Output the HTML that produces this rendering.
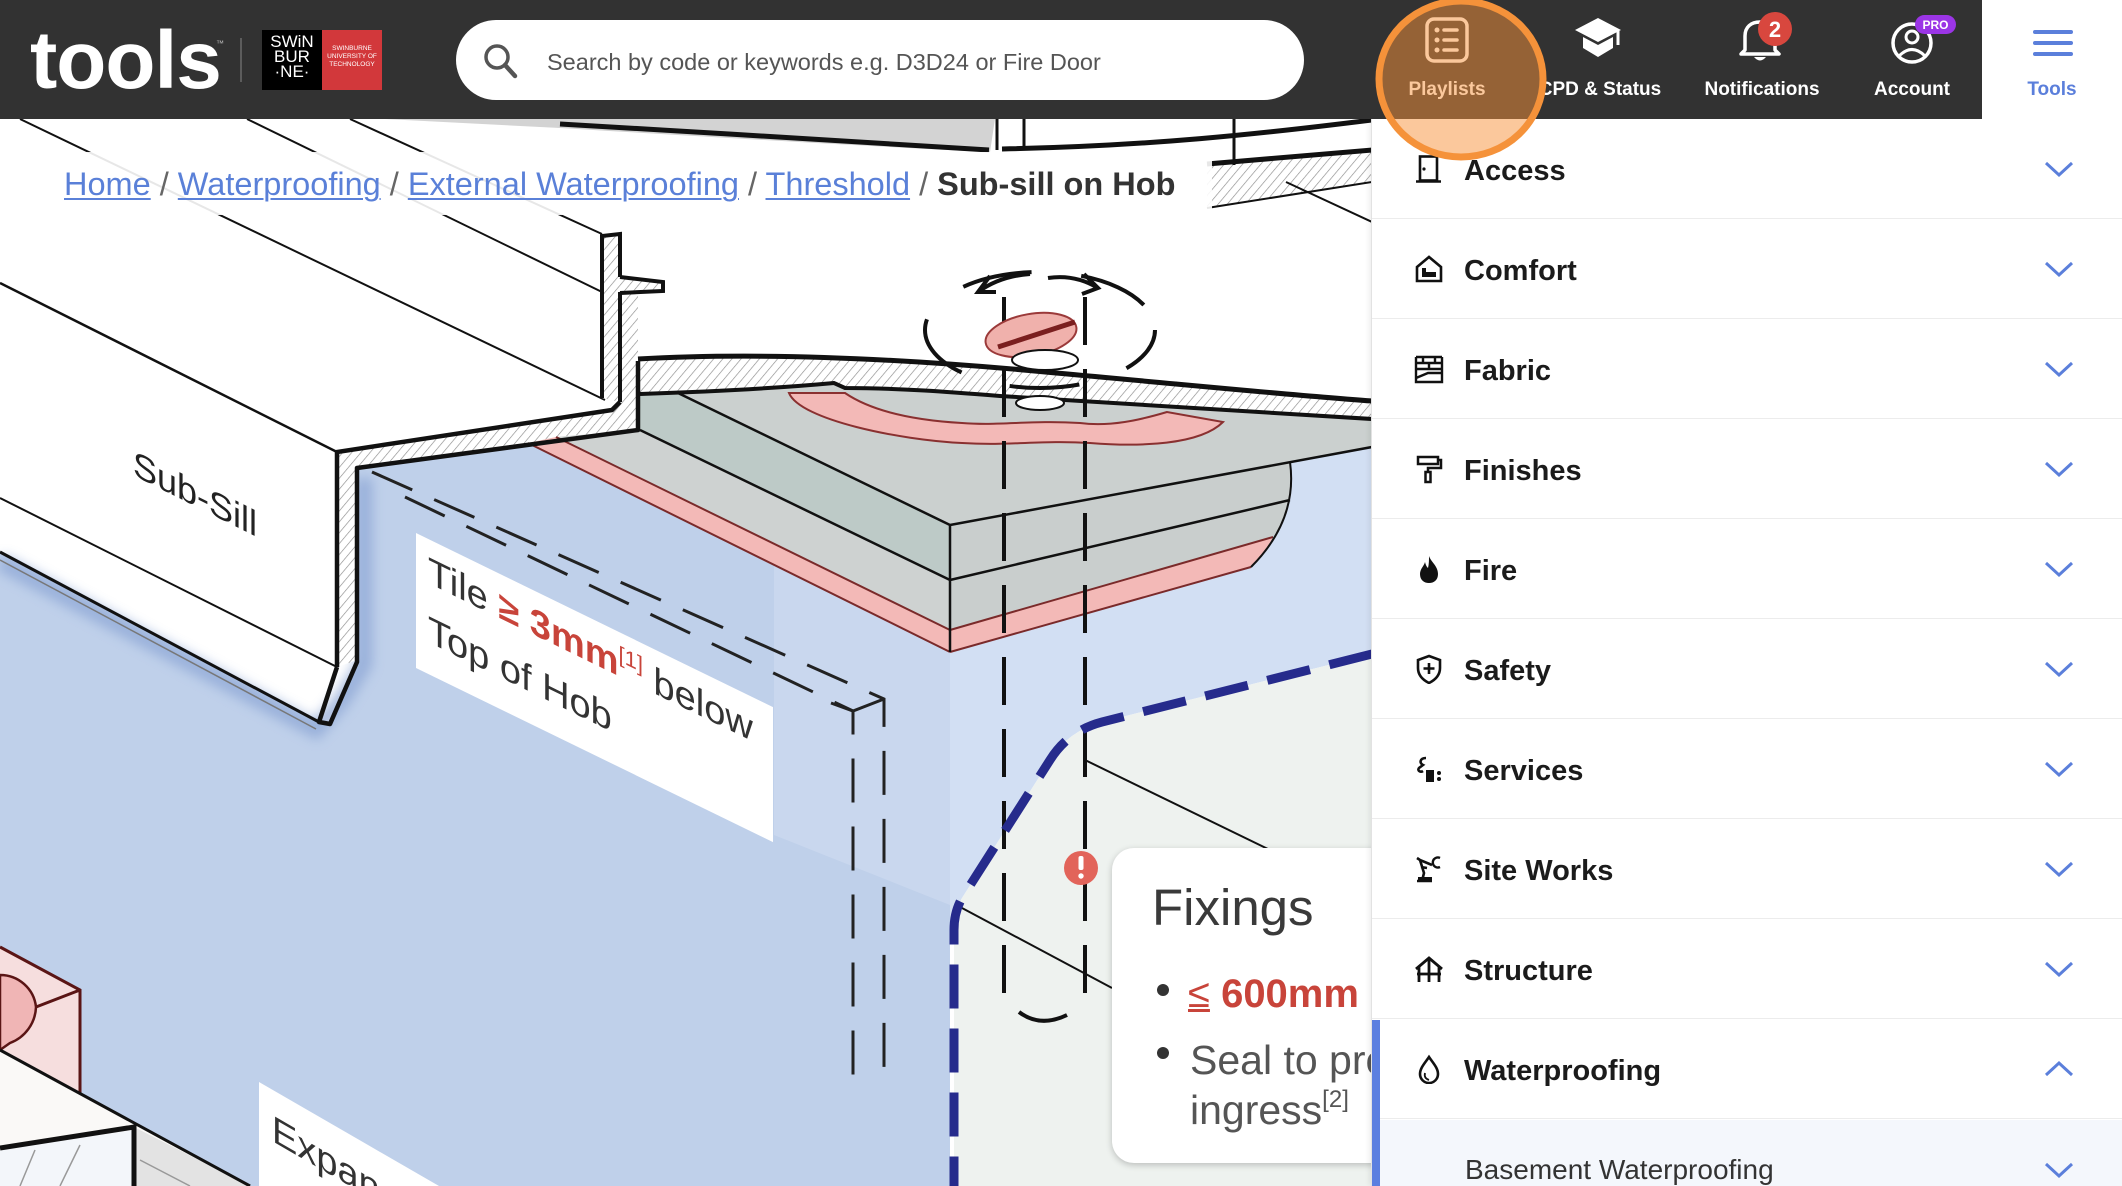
<!DOCTYPE html>
<html><head><meta charset="utf-8">
<style>
*{margin:0;padding:0;box-sizing:border-box}
html,body{width:2122px;height:1186px;overflow:hidden;background:#fff;font-family:"Liberation Sans",Arial,sans-serif}
#wrap{position:relative;width:2122px;height:1186px;overflow:hidden;background:#fff}
.abs{position:absolute}
.nav{position:absolute;top:80px;width:170px;text-align:center;font-size:19px;line-height:19px;font-weight:bold;color:#fff;white-space:nowrap}
.row{position:absolute;left:1372px;width:750px;height:100px;border-bottom:1px solid #ececec;background:#fff}
.row .t{position:absolute;left:92px;top:2px;line-height:100px;font-size:29px;font-weight:bold;color:#1b1b1b;white-space:nowrap}
.row svg.i{position:absolute;left:42px;top:35px;width:30px;height:30px}
.row svg.c{position:absolute;left:672px;top:41px;width:30px;height:18px}
.bc a{color:#5a80d8;text-decoration:underline;text-decoration-thickness:2px;text-underline-offset:3px}
.bc .s{color:#666}
</style></head><body>
<div id="wrap">

<!-- ILLUSTRATION -->
<svg class="abs" style="left:0;top:119px;z-index:1" width="1371" height="1067" viewBox="0 119 1371 1067" overflow="hidden">
<defs>
<pattern id="h" width="7" height="7" patternUnits="userSpaceOnUse" patternTransform="rotate(40)"><rect width="7" height="7" fill="#fff"/><line x1="0" y1="0" x2="0" y2="7" stroke="#8c8c8c" stroke-width="1.3"/></pattern>
<filter id="bl" x="-20%" y="-20%" width="140%" height="140%"><feGaussianBlur stdDeviation="6"/></filter>
<clipPath id="cp"><rect x="0" y="119" width="1371" height="1067"/></clipPath>
</defs>
<rect x="0" y="119" width="1371" height="1067" fill="#fff"/>
<!-- top strip -->
<path d="M385,119 L995,119 L990,152 C900,148 760,140 560,128 Z" fill="#d3d3d3"/>
<path d="M1207,164 L1372,150 L1372,182 L1207,208 Z" fill="url(#h)"/>
<path d="M560,124 C700,132 860,142 989,150" stroke="#111" stroke-width="5" fill="none"/>
<path d="M1002,149 C1150,146 1260,134 1372,120" stroke="#111" stroke-width="5" fill="none"/>
<path d="M997,119 V150 M1024,119 V148 M1234,119 V165" stroke="#111" stroke-width="3" fill="none"/>
<path d="M1207,164 L1372,150" stroke="#111" stroke-width="5"/>
<path d="M1286,182 L1372,222 M1207,208 L1372,182" stroke="#111" stroke-width="2"/>

<!-- blue regions -->
<path d="M0,552 L319,722 L330,724 L357,662 L357,468 L528,443 L950,652 L950,1186 L0,1186 Z" fill="#bfd0ea"/>
<path d="M774,565 L950,652 L950,905 L774,835 Z" fill="#c9d7ee"/>
<path d="M950,652 L1251,567 L1273,537 L1290,462 L1372,447 L1372,654 L1102,722 Q1068,731 1050,760 L962,898 Q954,912 954,930 L950,930 Z" fill="#d2dff3"/>
<path d="M1372,654 L1102,722 Q1068,731 1050,760 L962,898 Q954,912 954,930 L954,1186 L1372,1186 Z" fill="#eef2ef"/>
<path d="M0,562 L316,730 L342,700 L364,664 L364,478" stroke="#8ea7d6" stroke-width="16" fill="none" filter="url(#bl)" opacity=".8"/>

<!-- sub-sill lines -->
<path d="M20,119 L605,400 M247,119 L602,292 M350,119 L602,234" stroke="#111" stroke-width="2" fill="none"/>
<path d="M0,283 L337,452" stroke="#111" stroke-width="2.5"/>
<path d="M0,498 L337,667" stroke="#111" stroke-width="2"/>
<path d="M0,552 L319,722" stroke="#111" stroke-width="3"/>
<path d="M0,560 L316,729" stroke="#777" stroke-width="1.5"/>
<path d="M337,452 L612,410 L620,402 L620,361 L638,361 L638,430 L357,468 L357,660 L337,667 Z" fill="url(#h)"/>
<path d="M602,236 L620,234 L620,277 L663,282 L663,291 L638,293 L638,361 L620,361 L620,402 L602,398 Z" fill="url(#h)"/>

<!-- hob -->
<path d="M640,394 C700,392 780,388 834,383 L845,388 C900,388 950,392 1000,396 C1150,406 1300,414 1372,419 L1372,447 L950,525 L678,393 Z" fill="#cbd0cf"/>
<path d="M640,394 L678,393 L950,525 L950,580 L640,430 Z" fill="#bdcac7"/>
<path d="M640,430 L950,580 L950,630 L556,437 L638,430 Z" fill="#ced2d1"/>
<path d="M556,437 L950,630 L950,652 L528,443 Z" fill="#f3b9b7"/>
<path d="M950,525 L1290,462 Q1296,510 1273,537 L950,630 Z" fill="#c9cecd"/>
<path d="M950,630 L1273,537 Q1265,555 1251,567 L950,652 Z" fill="#f3b9b7"/>
<path d="M789,393 C800,420 900,440 962,443 C1010,446 1040,440 1090,443 C1140,447 1200,445 1223,422 L1167,412 C1140,420 1110,427 1080,423 C1030,420 1000,426 962,423 C910,420 870,410 845,393 Z" fill="#f3b9b7" stroke="#8a3030" stroke-width="2"/>
<path d="M556,437 L950,630 M528,443 L950,652 M950,630 L1273,537 M950,652 L1251,567" stroke="#7a2a2a" stroke-width="2" fill="none"/>
<path d="M678,393 L950,525 M640,430 L950,580 M950,525 L1372,447 M950,580 L1290,500 M950,525 V652" stroke="#111" stroke-width="2.5" fill="none"/>
<path d="M1290,462 Q1298,520 1251,567" stroke="#111" stroke-width="2" fill="none"/>

<!-- ground layer -->
<path d="M638,359 C760,352 900,358 1056,373 C1200,386 1300,396 1372,401 L1372,419 C1300,414 1150,406 1000,396 C950,392 900,388 845,388 L834,383 C780,388 700,392 640,394 Z" fill="url(#h)"/>
<path d="M638,359 C760,352 900,358 1056,373 C1200,386 1300,396 1372,401" stroke="#111" stroke-width="5" fill="none"/>
<path d="M640,394 C700,392 780,388 834,383 L845,388 C900,388 950,392 1000,396 C1150,406 1300,414 1372,419" stroke="#111" stroke-width="4" fill="none"/>

<!-- sub-sill profile -->
<path d="M337,667 L337,452 L612,410 L620,402" stroke="#111" stroke-width="4.5" fill="none"/>
<path d="M620,402 L620,292 M620,277 L620,234 L602,236 L602,398" stroke="#111" stroke-width="4" fill="none"/>
<path d="M620,277 L663,282 L663,291 L620,293" stroke="#111" stroke-width="4" fill="none"/>
<path d="M337,667 L319,722 L330,724 L357,662 L357,468 L638,430 L638,361" stroke="#111" stroke-width="4.5" fill="none" stroke-linejoin="round"/>

<!-- guide dashed lines -->
<path d="M372,472 L884,699 V1075" stroke="#222" stroke-width="3" fill="none" stroke-dasharray="44 24"/>
<path d="M405,497 L853,711 V1090" stroke="#222" stroke-width="3" fill="none" stroke-dasharray="44 24"/>
<path d="M831,703 L853,711 L884,699" stroke="#222" stroke-width="3" fill="none"/>

<!-- fixing -->
<path d="M1004,297 V1002 M1085,297 V998" stroke="#111" stroke-width="4" fill="none" stroke-dasharray="48 24"/>
<ellipse cx="1040" cy="330" rx="115" ry="58" fill="none" stroke="#111" stroke-width="4" stroke-dasharray="70 50" stroke-dashoffset="20"/>
<path d="M978,292 Q1000,276 1030,274 M990,276 L978,292 L996,292 M1048,278 Q1075,274 1098,288 M1084,274 L1098,288 L1082,294" stroke="#111" stroke-width="4" fill="none"/>
<ellipse cx="1031" cy="335" rx="46" ry="21" transform="rotate(-10 1031 335)" fill="#f0b1ac" stroke="#9b3a3a" stroke-width="2"/>
<path d="M998,347 L1075,322" stroke="#7a1f1f" stroke-width="5"/>
<ellipse cx="1045" cy="360" rx="33" ry="10" fill="#fff" stroke="#111" stroke-width="2"/>
<ellipse cx="1040" cy="403" rx="24" ry="7" fill="#fff" stroke="#111" stroke-width="2"/>
<path d="M1019,1012 Q1040,1028 1067,1015" stroke="#111" stroke-width="4" fill="none"/>
<path d="M1085,760 L1270,850 M962,908 L1112,988" stroke="#111" stroke-width="2"/>

<!-- navy dashed -->
<path d="M1372,654 L1102,722 Q1068,731 1050,760 L962,898 Q954,912 954,930 L954,1186" stroke="#262b8c" stroke-width="9" fill="none" stroke-dasharray="44 20"/>

<!-- exclamation -->
<circle cx="1081" cy="868" r="17" fill="#e2645a"/>
<rect x="1078.5" y="856" width="5" height="14" rx="2" fill="#fff"/>
<circle cx="1081" cy="876" r="2.7" fill="#fff"/>

<!-- bottom-left pink box and white box -->
<path d="M0,947 L80,990 L80,1096 L0,1050 Z" fill="#f6dede"/>
<path d="M0,975 A36,36 0 0 1 36,1007 A40,40 0 0 1 10,1043 L0,1050 Z" fill="#f0b5b5" stroke="#5a1515" stroke-width="2.5"/>
<path d="M0,947 L80,990 L80,1096 M36,1007 L80,990" stroke="#5a1515" stroke-width="3" fill="none"/>
<path d="M0,1050 L250,1186 L0,1186 Z" fill="#faf9f7"/>
<path d="M134,1127 L250,1186 L134,1186 Z" fill="#e3e3e3"/>
<path d="M0,1150 L134,1130 L134,1186 L0,1186 Z" fill="#f3f6fa"/>
<path d="M0,1050 L250,1186" stroke="#111" stroke-width="3"/>
<path d="M0,1148 L134,1127 L134,1186" stroke="#111" stroke-width="5" fill="none"/>
<path d="M140,1160 L190,1186 M20,1186 L35,1150 M60,1186 L80,1145" stroke="#999" stroke-width="1.5"/>

<!-- Expansion label -->
<path d="M259,1082 L439,1186 L259,1186 Z" fill="#fff"/>
<g clip-path="url(#cp)">
<text transform="translate(272,1141) skewY(30)" x="0" y="0" font-family="Liberation Sans, Arial, sans-serif" font-size="38" fill="#333">Expan</text>
</g>
</svg>

<!-- labels -->
<div class="abs" style="left:133px;top:445px;font-size:36px;line-height:36px;color:#222;transform:skewY(26.6deg);transform-origin:0 0;z-index:2;white-space:nowrap">Sub-Sill</div>
<div class="abs" style="left:416px;top:533px;width:357px;height:135px;background:#fff;transform:skewY(26deg);transform-origin:0 0;z-index:2"></div>
<div class="abs" style="left:428px;top:552px;font-size:38px;line-height:38px;color:#333;transform:skewY(26deg);transform-origin:0 0;z-index:3;white-space:nowrap">Tile <span style="color:#c8443a;font-weight:bold">≥ 3mm</span><span style="color:#c8443a;font-size:22px;position:relative;top:-15px">[1]</span> below</div>
<div class="abs" style="left:428px;top:611px;font-size:38px;line-height:38px;color:#333;transform:skewY(26deg);transform-origin:0 0;z-index:3;white-space:nowrap">Top of Hob</div>

<!-- Fixings card -->
<div class="abs" style="left:1112px;top:848px;width:330px;height:315px;background:#fff;border-radius:22px;box-shadow:0 2px 7px rgba(0,0,0,.22);z-index:3"></div>
<div class="abs" style="left:1152px;top:882px;font-size:51px;line-height:51px;color:#3a3a3a;z-index:4;white-space:nowrap">Fixings</div>
<div class="abs" style="left:1157px;top:984px;width:12px;height:12px;border-radius:6px;background:#333;z-index:4"></div>
<div class="abs" style="left:1188px;top:974px;font-size:40px;line-height:40px;color:#c8443a;font-weight:bold;z-index:4;white-space:nowrap"><span style="font-weight:normal;text-decoration:underline;text-decoration-thickness:3px">≤</span> 600mm</div>
<div class="abs" style="left:1157px;top:1047px;width:12px;height:12px;border-radius:6px;background:#333;z-index:4"></div>
<div class="abs" style="left:1190px;top:1035px;font-size:41px;line-height:50px;color:#555;z-index:4;white-space:nowrap">Seal to prevent water<br>ingress<span style="font-size:24px;position:relative;top:-17px">[2]</span></div>

<!-- breadcrumb band -->
<div class="abs" style="left:26px;top:152px;width:1186px;height:63px;background:rgba(255,255,255,.9);z-index:4"></div>
<div class="abs bc" style="left:64px;top:168px;font-size:32.5px;line-height:32px;white-space:nowrap;z-index:5;color:#333"><a>Home</a><span class="s"> / </span><a>Waterproofing</a><span class="s"> / </span><a>External Waterproofing</a><span class="s"> / </span><a>Threshold</a><span class="s"> / </span><b>Sub-sill on Hob</b></div>

<!-- RIGHT PANEL -->
<div class="abs" style="left:1371px;top:119px;width:751px;height:1067px;background:#fff;border-left:1px solid #e2e2e2;box-shadow:-2px 0 5px rgba(0,0,0,.07);z-index:6"></div>
<div class="abs" style="left:0;top:0;width:2122px;height:1186px;z-index:7;pointer-events:none">
<div class="row" style="top:119px"><svg class="i" viewBox="0 0 30 30"><rect x="6" y="2.5" width="17" height="24" fill="none" stroke="#111" stroke-width="2.6"/><path d="M2,27.5 H27" stroke="#111" stroke-width="2.6"/><circle cx="10" cy="15" r="1.6" fill="#111"/></svg><div class="t">Access</div><svg class="c" viewBox="0 0 30 18"><polyline points="2,3 15,15 28,3" fill="none" stroke="#5b7fdb" stroke-width="3"/></svg></div>
<div class="row" style="top:219px"><svg class="i" viewBox="0 0 30 30"><path d="M3,13 L15,3 L27,13 V27 H3 Z" fill="none" stroke="#111" stroke-width="2.6"/><rect x="8" y="18" width="14" height="5" fill="#111"/><rect x="8" y="14" width="4" height="4" fill="#111"/></svg><div class="t">Comfort</div><svg class="c" viewBox="0 0 30 18"><polyline points="2,3 15,15 28,3" fill="none" stroke="#5b7fdb" stroke-width="3"/></svg></div>
<div class="row" style="top:319px"><svg class="i" viewBox="0 0 30 30"><path d="M2,3 H28 M2,9 H28 M2,15 H28 M9,3 V9 M21,3 V9 M15,9 V15 M2,3 V28 H28 V3 M2,24 L14,19 H28" stroke="#111" stroke-width="2.4" fill="none"/></svg><div class="t">Fabric</div><svg class="c" viewBox="0 0 30 18"><polyline points="2,3 15,15 28,3" fill="none" stroke="#5b7fdb" stroke-width="3"/></svg></div>
<div class="row" style="top:419px"><svg class="i" viewBox="0 0 30 30"><path d="M4,3 H24 V10 H4 Z M24,6 H27 V14 H14 V18" stroke="#111" stroke-width="2.5" fill="none"/><rect x="11.5" y="18" width="5" height="10" fill="none" stroke="#111" stroke-width="2.5"/></svg><div class="t">Finishes</div><svg class="c" viewBox="0 0 30 18"><polyline points="2,3 15,15 28,3" fill="none" stroke="#5b7fdb" stroke-width="3"/></svg></div>
<div class="row" style="top:519px"><svg class="i" viewBox="0 0 30 30"><path d="M15,2 C17,8 24,12 24,20 C24,26 20,29 15,29 C10,29 6,26 6,20 C6,15 10,12 11,8 C12,12 13,13 14,14 C15,10 15,6 15,2 Z" fill="#111"/></svg><div class="t">Fire</div><svg class="c" viewBox="0 0 30 18"><polyline points="2,3 15,15 28,3" fill="none" stroke="#5b7fdb" stroke-width="3"/></svg></div>
<div class="row" style="top:619px"><svg class="i" viewBox="0 0 30 30"><path d="M15,2 L26,6 V14 C26,21 21,26 15,29 C9,26 4,21 4,14 V6 Z" fill="none" stroke="#111" stroke-width="2.6"/><path d="M15,9 V20 M9.5,14.5 H20.5" stroke="#111" stroke-width="2.6"/></svg><div class="t">Safety</div><svg class="c" viewBox="0 0 30 18"><polyline points="2,3 15,15 28,3" fill="none" stroke="#5b7fdb" stroke-width="3"/></svg></div>
<div class="row" style="top:719px"><svg class="i" viewBox="0 0 30 30"><path d="M12,4 C6,4 5,9 9,11 L5,14 C3,16 6,19 9,17" stroke="#111" stroke-width="2.6" fill="none"/><rect x="12" y="16" width="8" height="12" fill="#111"/><circle cx="25" cy="19" r="2" fill="#111"/><circle cx="25" cy="25" r="2" fill="#111"/></svg><div class="t">Services</div><svg class="c" viewBox="0 0 30 18"><polyline points="2,3 15,15 28,3" fill="none" stroke="#5b7fdb" stroke-width="3"/></svg></div>
<div class="row" style="top:819px"><svg class="i" viewBox="0 0 30 30"><path d="M3,27 H18 M8,27 L10,19 L6,6 L18,11 M6,6 L3,4 M13,14 L7,13" stroke="#111" stroke-width="2.6" fill="none"/><rect x="4" y="23" width="14" height="5" fill="#111"/><path d="M26,4 A5,5 0 1 0 26,13" stroke="#111" stroke-width="2.4" fill="none"/></svg><div class="t">Site Works</div><svg class="c" viewBox="0 0 30 18"><polyline points="2,3 15,15 28,3" fill="none" stroke="#5b7fdb" stroke-width="3"/></svg></div>
<div class="row" style="top:919px"><svg class="i" viewBox="0 0 30 30"><path d="M2,15 L15,4 L28,15 M5,13 V28 M25,13 V28 M15,4 V28 M3,20 H27" stroke="#111" stroke-width="2.8" fill="none"/></svg><div class="t">Structure</div><svg class="c" viewBox="0 0 30 18"><polyline points="2,3 15,15 28,3" fill="none" stroke="#5b7fdb" stroke-width="3"/></svg></div>
<div class="row" style="top:1019px"><svg class="i" viewBox="0 0 30 30"><path d="M15,3 C11,9 6,14 6,20 A9,9 0 0 0 24,20 C24,14 19,9 15,3 Z" fill="none" stroke="#111" stroke-width="2.6"/><path d="M11,19 C10,23 12,25 15,26" stroke="#111" stroke-width="1.8" fill="none"/></svg><div class="t">Waterproofing</div><svg class="c" viewBox="0 0 30 18"><polyline points="2,15 15,3 28,15" fill="none" stroke="#5b7fdb" stroke-width="3"/></svg></div>
<div class="row" style="top:1120px;background:#f4f7fc;border-bottom:none;height:66px"><div class="t" style="font-weight:normal;font-size:28px;color:#333;left:93px;top:2px;line-height:96px">Basement Waterproofing</div><svg class="c" viewBox="0 0 30 18"><polyline points="2,3 15,15 28,3" fill="none" stroke="#5b7fdb" stroke-width="3"/></svg></div>
<div class="abs" style="left:1372px;top:1020px;width:8px;height:166px;background:#5b7fe0"></div>
</div>

<!-- HEADER -->
<div class="abs" style="left:0;top:0;width:1982px;height:119px;background:#323232;z-index:8"></div>
<div class="abs" style="left:1982px;top:0;width:140px;height:119px;background:#fff;z-index:8"></div>
<div class="abs" style="left:30px;top:20px;font-size:82px;line-height:82px;font-weight:bold;color:#fff;letter-spacing:-1px;z-index:9">tools</div>
<div class="abs" style="left:216px;top:40px;font-size:8px;line-height:8px;color:#bbb;z-index:9">™</div>
<div class="abs" style="left:240px;top:38px;width:2px;height:44px;background:#5c5c5c;z-index:9"></div>
<div class="abs" style="left:262px;top:30px;width:60px;height:60px;background:#000;z-index:9"></div>
<div class="abs" style="left:322px;top:30px;width:60px;height:60px;background:#d2383b;z-index:9"></div>
<div class="abs" style="left:262px;top:34px;width:60px;text-align:center;font-size:17px;line-height:15px;color:#fff;z-index:10">SWiN<br>BUR<br>·NE·</div>
<div class="abs" style="left:322px;top:45px;width:60px;text-align:center;font-size:6.5px;line-height:8px;color:#fff;z-index:10">SWINBURNE<br>UNIVERSITY OF<br>TECHNOLOGY</div>
<div class="abs" style="left:456px;top:20px;width:848px;height:80px;border-radius:40px;background:#fff;z-index:9"></div>
<div class="abs" style="left:547px;top:20px;line-height:84px;font-size:23.5px;color:#555;white-space:nowrap;z-index:10">Search by code or keywords e.g. D3D24 or Fire Door</div>

<svg class="abs" style="left:0;top:0;z-index:10" width="2122" height="119" viewBox="0 0 2122 119">
<circle cx="497" cy="57" r="11" fill="none" stroke="#555" stroke-width="3.5"/>
<line x1="505" y1="65" x2="515" y2="76" stroke="#555" stroke-width="4.5" stroke-linecap="round"/>
<rect x="1427" y="19" width="40" height="42" rx="7" fill="none" stroke="#fff" stroke-width="3.5"/>
<circle cx="1437" cy="30" r="2.5" fill="#fff"/><circle cx="1437" cy="40" r="2.5" fill="#fff"/><circle cx="1437" cy="50" r="2.5" fill="#fff"/>
<path d="M1444,30 H1457 M1444,40 H1457 M1444,50 H1457" stroke="#fff" stroke-width="3.5" stroke-linecap="round"/>
<polygon points="1575,30 1598,18 1621,30 1598,42" fill="#fff"/>
<path d="M1583,37 L1583,48 L1598,57 L1613,48 L1613,37 L1598,45 Z" fill="#fff"/>
<line x1="1618" y1="31" x2="1618" y2="45" stroke="#fff" stroke-width="3"/>
<path d="M1745,50 L1745,36 C1745,27 1751,22 1760,22 C1769,22 1775,27 1775,36 L1775,50 L1779,54 L1741,54 Z" fill="none" stroke="#fff" stroke-width="3.5" stroke-linejoin="round"/>
<path d="M1754,57 Q1760,64 1766,57 Z" fill="#fff"/>
<circle cx="1775" cy="29" r="17" fill="#d8473e"/>
<text x="1775" y="37" font-family="Liberation Sans, Arial, sans-serif" font-size="22" font-weight="bold" fill="#fff" text-anchor="middle">2</text>
<circle cx="1912" cy="43" r="19" fill="none" stroke="#fff" stroke-width="3.5"/>
<circle cx="1912" cy="37" r="6" fill="none" stroke="#fff" stroke-width="3"/>
<path d="M1899,56 Q1912,43 1925,56" fill="none" stroke="#fff" stroke-width="3"/>
<rect x="1915" y="15" width="41" height="19" rx="9.5" fill="#9b35e6"/>
<text x="1935.5" y="29" font-family="Liberation Sans, Arial, sans-serif" font-size="12" font-weight="bold" fill="#fff" text-anchor="middle">PRO</text>
<rect x="2033" y="30" width="40" height="4" rx="2" fill="#5b7fdb"/>
<rect x="2033" y="41" width="40" height="4" rx="2" fill="#5b7fdb"/>
<rect x="2033" y="52" width="40" height="4" rx="2" fill="#5b7fdb"/>
</svg>
<div class="nav" style="left:1362px;z-index:10">Playlists</div>
<div class="nav" style="left:1515px;z-index:10">CPD &amp; Status</div>
<div class="nav" style="left:1677px;z-index:10">Notifications</div>
<div class="nav" style="left:1827px;z-index:10">Account</div>
<div class="nav" style="left:1967px;color:#5b7fdb;z-index:10">Tools</div>

<!-- highlight circle -->
<svg class="abs" style="left:1370px;top:0;z-index:20" width="190" height="170" viewBox="0 0 190 170">
<ellipse cx="91" cy="79" rx="82" ry="78" fill="rgba(247,146,58,0.5)" stroke="#f5923a" stroke-width="7"/>
</svg>
</div>
</body></html>
